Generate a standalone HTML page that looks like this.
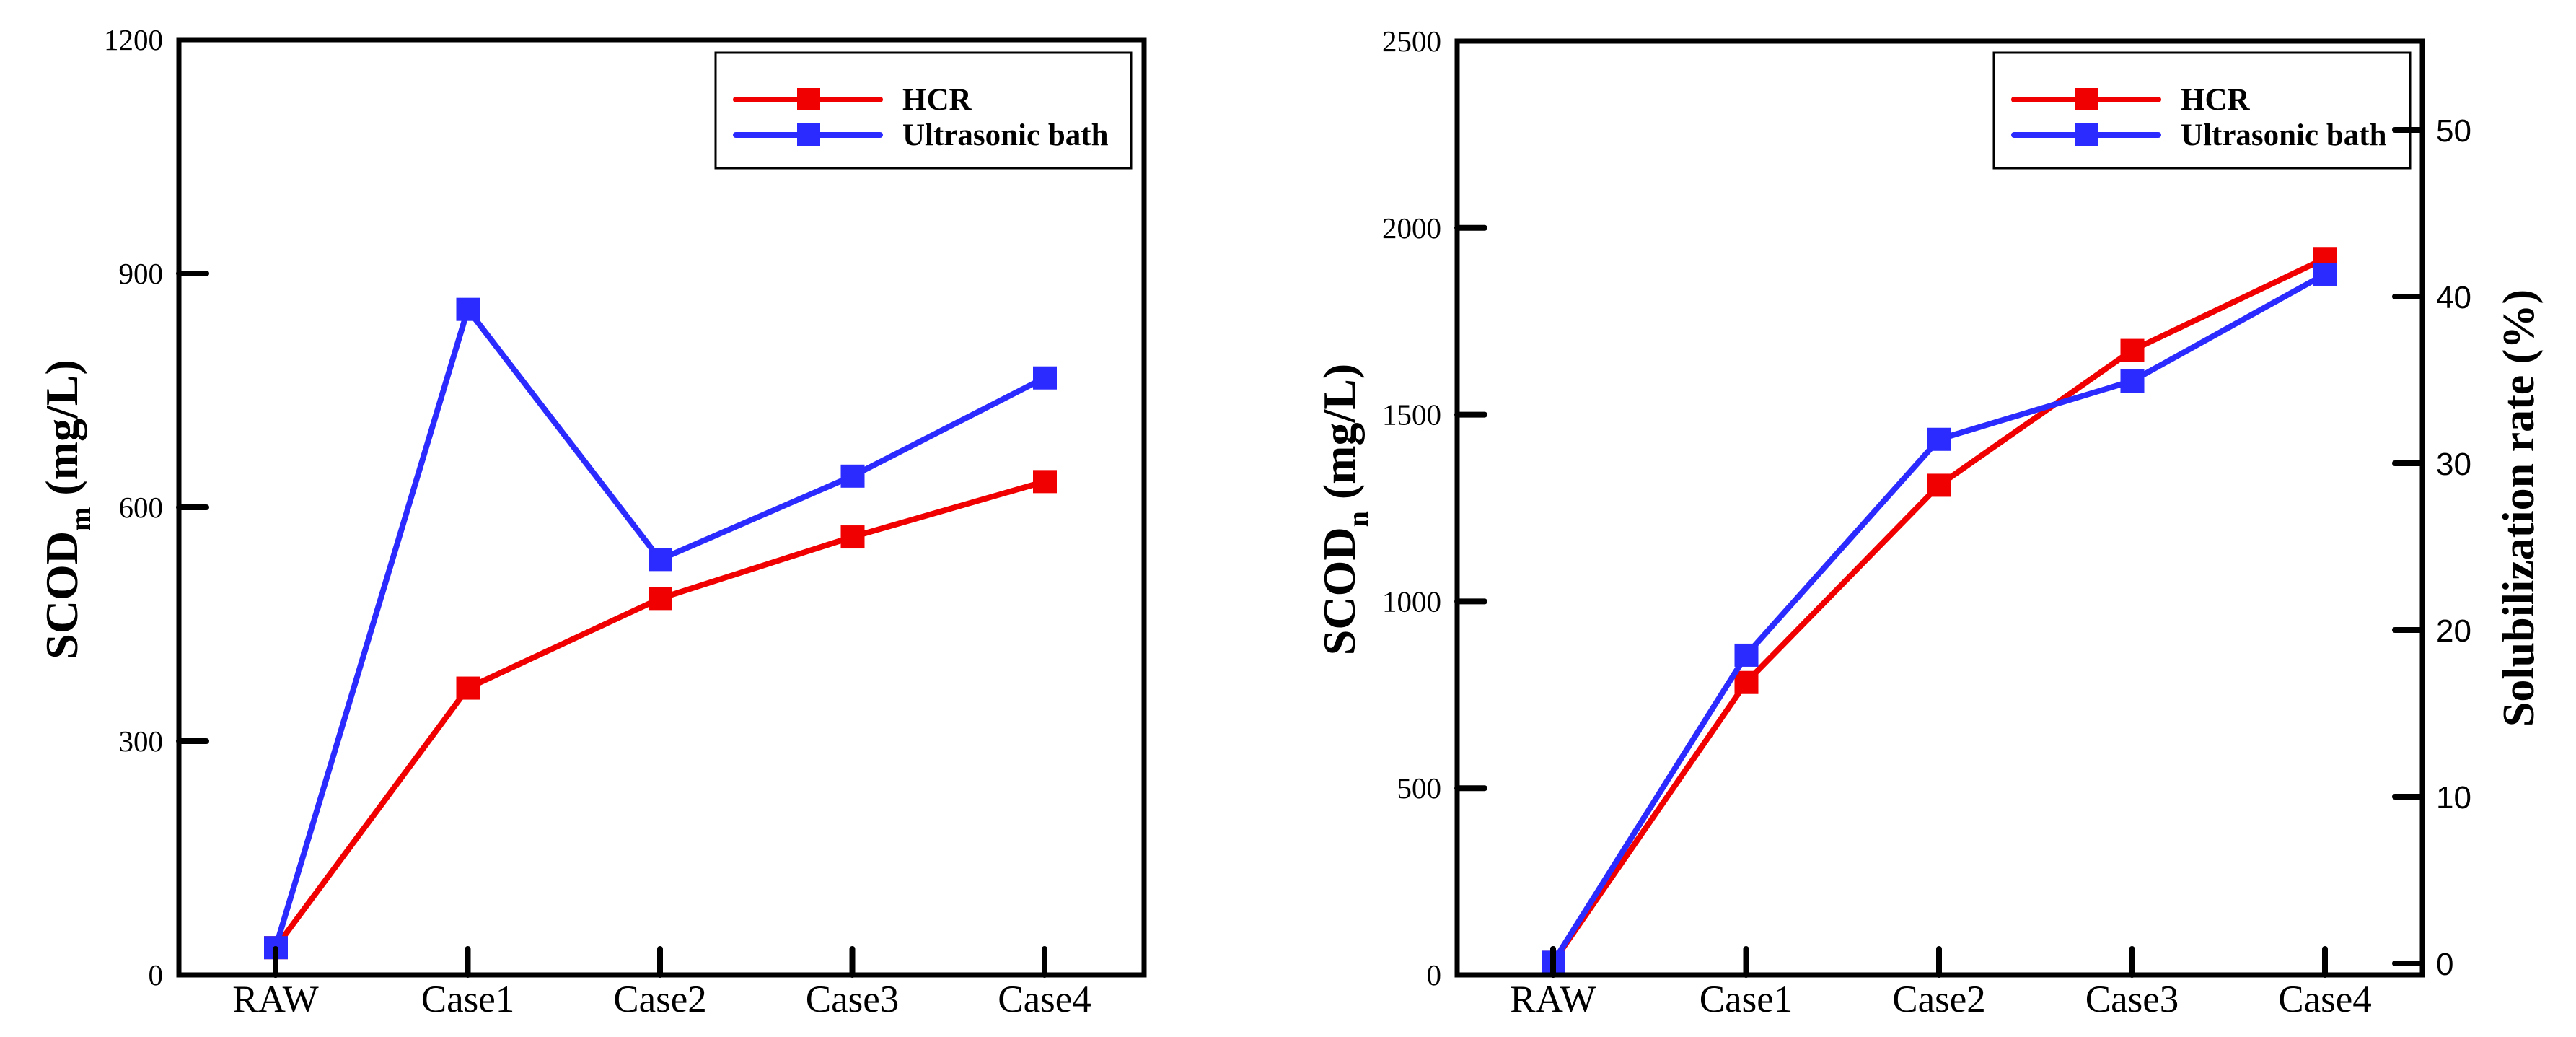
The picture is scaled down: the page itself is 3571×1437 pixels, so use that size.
<!DOCTYPE html>
<html><head><meta charset="utf-8"><style>
html,body{margin:0;padding:0;background:#fff;}
svg{display:block;}
text{font-family:"Liberation Serif",serif;}
</style></head><body>
<svg id="chart" width="3571" height="1437" viewBox="0 0 3571 1437" xmlns="http://www.w3.org/2000/svg"></svg>
<script>
const categories = ["RAW","Case1","Case2","Case3","Case4"];
const leftHCR = [35, 368, 483, 562, 633];
const leftUltra = [35, 854, 533, 640, 766];
const leftTicks = [0, 300, 600, 900, 1200];
const rightHCR = [34, 783, 1311, 1672, 1918];
const rightUltra = [34, 856, 1434, 1590, 1876];
const rightTicks = [0, 500, 1000, 1500, 2000, 2500];
const rateTicks = [0, 10, 20, 30, 40, 50];
const seriesNames = ["HCR", "Ultrasonic bath"];

const NS = "http://www.w3.org/2000/svg";
const svg = document.getElementById('chart');
const RED = "#f00000", BLUE = "#2b2bff";
function mk(tag, attrs, parent, txt){
  const e = document.createElementNS(NS, tag);
  for (const k in attrs) e.setAttribute(k, attrs[k]);
  if (txt !== undefined) e.textContent = txt;
  (parent || svg).appendChild(e);
  return e;
}

function panel(cfg){
  const g = mk('g', {});
  
  
  const xs = i => cfg.x0 + i * cfg.dx;
  const ys = v => cfg.yb - (v - cfg.ymin) / (cfg.ymax - cfg.ymin) * (cfg.yb - cfg.yt);
  // y ticks
  cfg.ticks.forEach(t => {
    const y = ys(t);
    if (t !== cfg.ymin && t !== cfg.ymax) {
      const tk = mk('line', {x1: cfg.L, x2: cfg.L + 38, y1: y, y2: y, stroke: '#000', 'stroke-width': 8, 'stroke-linecap': 'round'}, g);
      
      
    }
    const lb = mk('text', {x: cfg.L - 22, y: y + 14, 'font-size': 41, 'text-anchor': 'end'}, g, String(t));
    
    
  });
  // x ticks
  categories.forEach((c, i) => {
    const x = xs(i);
    const tk = mk('line', {x1: x, x2: x, y1: cfg.yb, y2: cfg.yb - 36, stroke: '#000', 'stroke-width': 8, 'stroke-linecap': 'round'}, g);
    
    
    const lb = mk('text', {x: x, y: 1402, 'font-size': 53, 'text-anchor': 'middle'}, g, c);
    
    
  });
  // series
  [[cfg.hcr, RED, 'hcr'], [cfg.ultra, BLUE, 'ultrasonic']].forEach(([vals, col, nm]) => {
    const pts = vals.map((v, i) => xs(i) + ',' + ys(v)).join(' ');
    const pl = mk('polyline', {points: pts, fill: 'none', stroke: col, 'stroke-width': 8, 'stroke-linejoin': 'round'}, g);
    
    
    vals.forEach((v, i) => {
      const r = mk('rect', {x: xs(i) - 16, y: ys(v) - 16, width: 33, height: 32, fill: col}, g);
      
      
    });
  });
  // redraw tick under markers at RAW visible like reference (tick over marker)
  const tk0 = mk('line', {x1: xs(0), x2: xs(0), y1: cfg.yb, y2: cfg.yb - 36, stroke: '#000', 'stroke-width': 8, 'stroke-linecap': 'round'}, g);
  
  
  // frame
  const fr = mk('rect', {x: cfg.L, y: cfg.yt, width: cfg.R - cfg.L, height: cfg.yb - cfg.yt, fill: 'none', stroke: '#000', 'stroke-width': 7}, g);
  
  
  // y title
  const tt = mk('text', {transform: `translate(${cfg.titleX},${cfg.titleY}) rotate(-90)`, 'font-size': 64, 'font-weight': 'bold', 'text-anchor': 'middle'}, g);
  
  
  mk('tspan', {}, tt, 'SCOD');
  mk('tspan', {'font-size': 40, dy: 18}, tt, cfg.sub);
  mk('tspan', {dy: -18}, tt, '\u00a0(mg/L)');
  // legend
  const lg = mk('g', {}, g);
  
  
  mk('rect', {x: cfg.lgX, y: 73, width: cfg.lgW, height: 160, fill: '#fff', stroke: '#000', 'stroke-width': 3}, lg);
  [[RED, 138], [BLUE, 187]].forEach(([col, y], k) => {
    const en = mk('g', {}, lg);
    
    
    mk('line', {x1: cfg.lgX + 28, x2: cfg.lgX + 228, y1: y, y2: y, stroke: col, 'stroke-width': 8, 'stroke-linecap': 'round'}, en);
    mk('rect', {x: cfg.lgX + 113, y: y - 16, width: 32, height: 31, fill: col}, en);
    mk('text', {x: cfg.lgX + 259, y: y + 14, 'font-size': 43, 'font-weight': 'bold'}, en, seriesNames[k]);
  });
  return {g, ys};
}

panel({name: 'left-panel', L: 248, R: 1586, yt: 55, yb: 1351, ymin: 0, ymax: 1200, x0: 382, dx: 266.5,
  ticks: leftTicks, hcr: leftHCR, ultra: leftUltra, titleX: 107, titleY: 706, sub: 'm', lgX: 992, lgW: 576});

const rp = panel({name: 'right-panel', L: 2020, R: 3358, yt: 57, yb: 1351, ymin: 0, ymax: 2500, x0: 2153, dx: 267.5,
  ticks: rightTicks, hcr: rightHCR, ultra: rightUltra, titleX: 1878, titleY: 706, sub: 'n', lgX: 2764, lgW: 577});

// secondary axis
const rateY = v => 1335 - v * 23.1;
rateTicks.forEach(t => {
  const y = rateY(t);
  const tk = mk('line', {x1: 3320, x2: 3358, y1: y, y2: y, stroke: '#000', 'stroke-width': 8, 'stroke-linecap': 'round'});
  
  
  const lb = mk('text', {x: 3377, y: y + 16, 'font-size': 44, style: 'font-family:"Liberation Sans",sans-serif'}, undefined, String(t));
  
  
});
const rt = mk('text', {transform: 'translate(3512,704) rotate(-90)', 'font-size': 62, 'font-weight': 'bold', 'text-anchor': 'middle'}, undefined, 'Solubilization rate (%)');


</script>
</body></html>
